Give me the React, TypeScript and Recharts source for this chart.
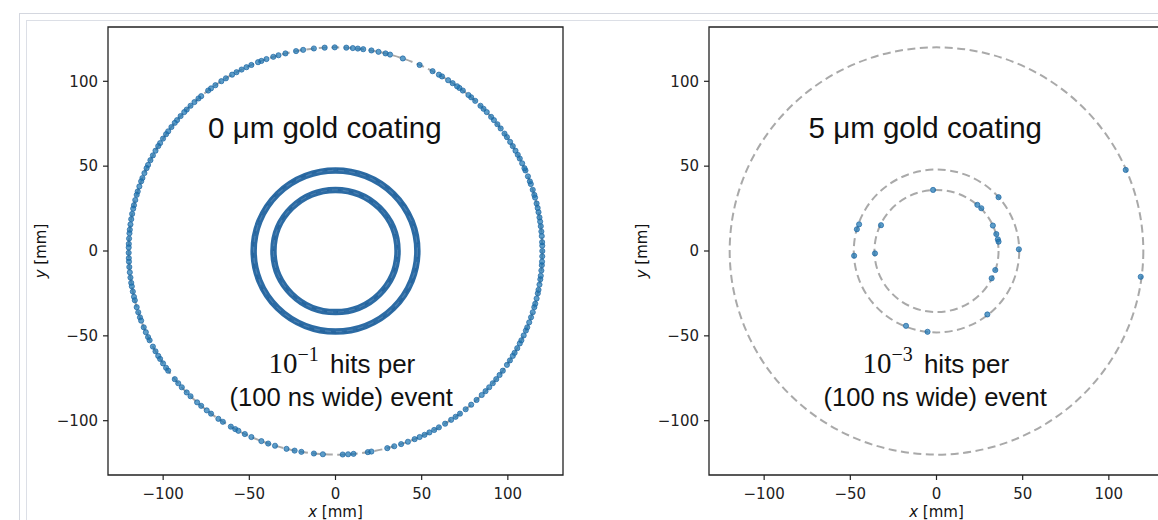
import React from 'react'
import * as Recharts from 'recharts'

const { ScatterChart, Scatter, XAxis, YAxis, ReferenceArea, ReferenceDot } = Recharts

// detector layer radii (mm)
const layerRadii = [36, 48, 120]
const outerLayerRadius = 120

// axis range and ticks (mm)
const axisLimit = 132
const axisTicks = [-100, -50, 0, 50, 100]

// 0 um coating: azimuth (deg) of each hit on the 120 mm layer
const bareOuterHitAngles = [
  0, 1.5, 2.5, 4.2, 5.5, 7, 8.3, 9.5, 11, 12.2, 13.5, 15.2, 16, 17.5, 19.2, 20, 21.5, 23.3, 24,
  25.5, 27, 28.2, 29.5, 31, 32.4, 34, 35.2, 37, 38.5, 40, 41.2, 43, 44.3, 45.5, 47.5, 49, 50,
  52, 53.2, 54, 55.5, 57, 59, 60, 62, 66, 71, 74.7, 76, 78, 80, 82.3, 83.8, 85.2, 87, 90.2, 93,
  96, 99, 101, 104, 106, 107.5, 109.5, 111, 112, 114, 115.5, 117, 118.6, 120, 122, 123.5, 125.5,
  127, 128, 130.5, 131.5, 133, 134.5, 136, 137, 138.5, 140, 141, 142.5, 144, 145, 146.5, 148,
  149, 150.5, 152, 153.5, 155, 156, 157.5, 159, 160, 161.5, 163, 164, 165.5, 167, 168, 169.5,
  171, 172.5, 174, 175, 176.5, 178, 179, 180.5, 182, 183, 184.5, 186, 187.5, 189, 190, 191.5,
  193, 194, 196, 197.5, 199, 200, 202, 203.5, 205, 206, 208, 209.5, 211, 212, 213.5, 215, 216,
  219, 220.5, 222, 224, 225.5, 228, 229.5, 231.5, 233, 235.5, 237, 239.6, 241, 242, 244, 246,
  249, 251, 253, 256.3, 258.6, 260.5, 264, 266.5, 272, 273.5, 275, 279, 280, 284.5, 286.5,
  288.5, 290.5, 292.5, 294, 295.5, 297, 298.5, 300, 302, 304, 305.5, 307, 309, 311, 313, 315,
  316.5, 318, 319.5, 321, 322.5, 324, 326, 327.5, 329, 330, 331.5, 333, 334, 335.5, 337, 338,
  339.5, 341, 342.5, 344, 345, 346.5, 348, 349, 350.5, 352, 353, 354.5, 356, 357, 358.5,
]
// 0 um coating: the two inner layers are saturated with hits
const bareSaturatedRadii = [36, 47.5]

// 5 um coating: individual hits (mm)
const coatedHitsX = [
  -2, 36, 23.7, 26, 32.7, 34.7, 35.6, 36, 47.8, 34.1, 32, 29.5, -5.2, -17.7, -47.8, -35.7,
  -32.2, -46.2, -44.9, 109.8, 118.5,
]
const coatedHitsY = [
  36, 31.7, 27.2, 25.2, 15, 10, 6.9, 5.5, 1, -11.2, -16.1, -37.4, -47.6, -44.1, -2.8, -1.4,
  15.2, 12.8, 15.7, 47.8, -15.2,
]

// panel captions
const coatingThickness = [0, 5]
const hitRateExponent = [-1, -3]

type Hit = { x: number; y: number }
type Area = { x: number; y: number; width: number; height: number }

const bareHits: Hit[] = bareOuterHitAngles.map((deg) => ({
  x: outerLayerRadius * Math.cos((deg * Math.PI) / 180),
  y: outerLayerRadius * Math.sin((deg * Math.PI) / 180),
}))
const coatedHits: Hit[] = coatedHitsX.map((x, i) => ({ x, y: coatedHitsY[i] }))

const usePlotArea = (Recharts as any).usePlotArea as () => Area | undefined

const SANS = '"Liberation Sans", Arial, Helvetica, sans-serif'
const MPL = '"DejaVu Sans", sans-serif'
const SERIF = '"Liberation Serif", "Times New Roman", serif'
const BLUE = '#1f77b4'

const fmtTick = (v: number) => (v < 0 ? `\u2212${-v}` : `${v}`)

// circles centred on the beam axis, sized through the plot area / axis range
function Rings(props: {
  radii: number[]
  stroke: string
  width: number
  dash?: string
  opacity?: number
}) {
  const area = usePlotArea()
  if (!area) return null
  const sx = area.width / (2 * axisLimit)
  const sy = area.height / (2 * axisLimit)
  const cx = area.x + axisLimit * sx
  const cy = area.y + axisLimit * sy
  return (
    <g>
      {props.radii.map((r) => (
        <ellipse
          key={r}
          cx={cx}
          cy={cy}
          rx={r * sx}
          ry={r * sy}
          fill="none"
          stroke={props.stroke}
          strokeWidth={props.width}
          strokeDasharray={props.dash}
          strokeOpacity={props.opacity ?? 1}
        />
      ))}
    </g>
  )
}

const hitDot = (p: any) => (
  <circle
    cx={p.cx}
    cy={p.cy}
    r={2.6}
    fill={BLUE}
    fillOpacity={0.72}
    stroke="#1a64a0"
    strokeOpacity={0.85}
    strokeWidth={0.8}
  />
)

const yTitle = (p: any) => {
  const vb = p.viewBox
  const x = vb.x - 2
  const y = vb.y + vb.height / 2
  return (
    <text
      x={x}
      y={y}
      transform={`rotate(-90 ${x} ${y})`}
      textAnchor="middle"
      fontFamily={MPL}
      fontSize={15}
      fill="#111"
    >
      <tspan fontStyle="italic">y</tspan> [mm]
    </text>
  )
}

const xTitle = (p: any) => {
  const vb = p.viewBox
  return (
    <text
      x={vb.x + vb.width / 2}
      y={vb.y + vb.height - 3.5}
      textAnchor="middle"
      fontFamily={MPL}
      fontSize={15}
      fill="#111"
    >
      <tspan fontStyle="italic">x</tspan> [mm]
    </text>
  )
}

type PanelProps = {
  thickness: number
  exponent: number
  hits: Hit[]
  saturated: number[]
  titleX: number
  rateX: number
}

function Panel({ thickness, exponent, hits, saturated, titleX, rateX }: PanelProps) {
  return (
    <ScatterChart width={580} height={520} margin={{ top: 27, right: 17, bottom: 0, left: 48 }}>
      <XAxis
        type="number"
        dataKey="x"
        domain={[-axisLimit, axisLimit]}
        ticks={axisTicks}
        interval={0}
        allowDataOverflow
        height={45}
        axisLine={false}
        tickSize={5}
        tickMargin={8}
        tickLine={{ stroke: '#222', strokeWidth: 1.2 }}
        tick={{ fill: '#222', fontSize: 15, fontFamily: MPL }}
        tickFormatter={fmtTick}
        label={{ content: xTitle }}
      />
      <YAxis
        type="number"
        dataKey="y"
        domain={[-axisLimit, axisLimit]}
        ticks={axisTicks}
        interval={0}
        allowDataOverflow
        width={60}
        axisLine={false}
        tickSize={5}
        tickMargin={5}
        tickLine={{ stroke: '#222', strokeWidth: 1.2 }}
        tick={{ fill: '#222', fontSize: 15, fontFamily: MPL }}
        tickFormatter={fmtTick}
        label={{ content: yTitle }}
      />
      <Rings radii={layerRadii} stroke="#9a9a9a" width={2} dash="8 4.5" opacity={0.85} />
      {saturated.length > 0 && (
        <>
          <Rings radii={saturated} stroke="#1a5e9c" width={6.5} opacity={0.92} />
          <Rings radii={saturated} stroke="#5f8fbd" width={1.2} dash="6 5" opacity={0.6} />
        </>
      )}
      <Scatter data={hits} shape={hitDot} isAnimationActive={false} />
      <ReferenceArea
        x1={-axisLimit}
        x2={axisLimit}
        y1={-axisLimit}
        y2={axisLimit}
        fill="none"
        fillOpacity={0}
        stroke="#222"
        strokeWidth={1.3}
        ifOverflow="visible"
      />
      <ReferenceDot
        x={titleX}
        y={66.7}
        r={0}
        ifOverflow="visible"
        shape={(p: any) => (
          <text x={p.cx} y={p.cy} textAnchor="middle" fontFamily={SANS} fontSize={29.5} fill="#111">
            {`${thickness} \u03bcm gold coating`}
          </text>
        )}
      />
      <ReferenceDot
        x={rateX}
        y={-72}
        r={0}
        ifOverflow="visible"
        shape={(p: any) => (
          <text x={p.cx} y={p.cy} textAnchor="middle" fill="#111">
            <tspan fontFamily={SERIF} fontSize={29}>10</tspan>
            <tspan fontFamily={SERIF} fontSize={20} dy={-12}>{`\u2212${-exponent}`}</tspan>
            <tspan fontFamily={SANS} fontSize={26} dy={12} dx={4}> hits per</tspan>
          </text>
        )}
      />
      <ReferenceDot
        x={rateX - 0.4}
        y={-91.5}
        r={0}
        ifOverflow="visible"
        shape={(p: any) => (
          <text x={p.cx} y={p.cy} textAnchor="middle" fontFamily={SANS} fontSize={25.6} fill="#111">
            (100 ns wide) event
          </text>
        )}
      />
    </ScatterChart>
  )
}

export default function App() {
  return (
    <div
      style={{
        position: 'absolute',
        left: 0,
        top: 0,
        width: 1158,
        height: 520,
        overflow: 'hidden',
        background: '#fff',
      }}
    >
      <div style={{ position: 'absolute', left: 19, top: 13, width: 1300, height: 700, border: '1.5px solid #d4d7df' }} />
      <div style={{ position: 'absolute', left: 26, top: 20, width: 1300, height: 700, border: '1px solid #dcdfe6' }} />
      <div style={{ position: 'absolute', left: 0, top: 0 }}>
        <Panel
          thickness={coatingThickness[0]}
          exponent={hitRateExponent[0]}
          hits={bareHits}
          saturated={bareSaturatedRadii}
          titleX={-6.2}
          rateX={3.7}
        />
      </div>
      <div style={{ position: 'absolute', left: 601, top: 0 }}>
        <Panel
          thickness={coatingThickness[1]}
          exponent={hitRateExponent[1]}
          hits={coatedHits}
          saturated={[]}
          titleX={-6.5}
          rateX={-0.4}
        />
      </div>
    </div>
  )
}
